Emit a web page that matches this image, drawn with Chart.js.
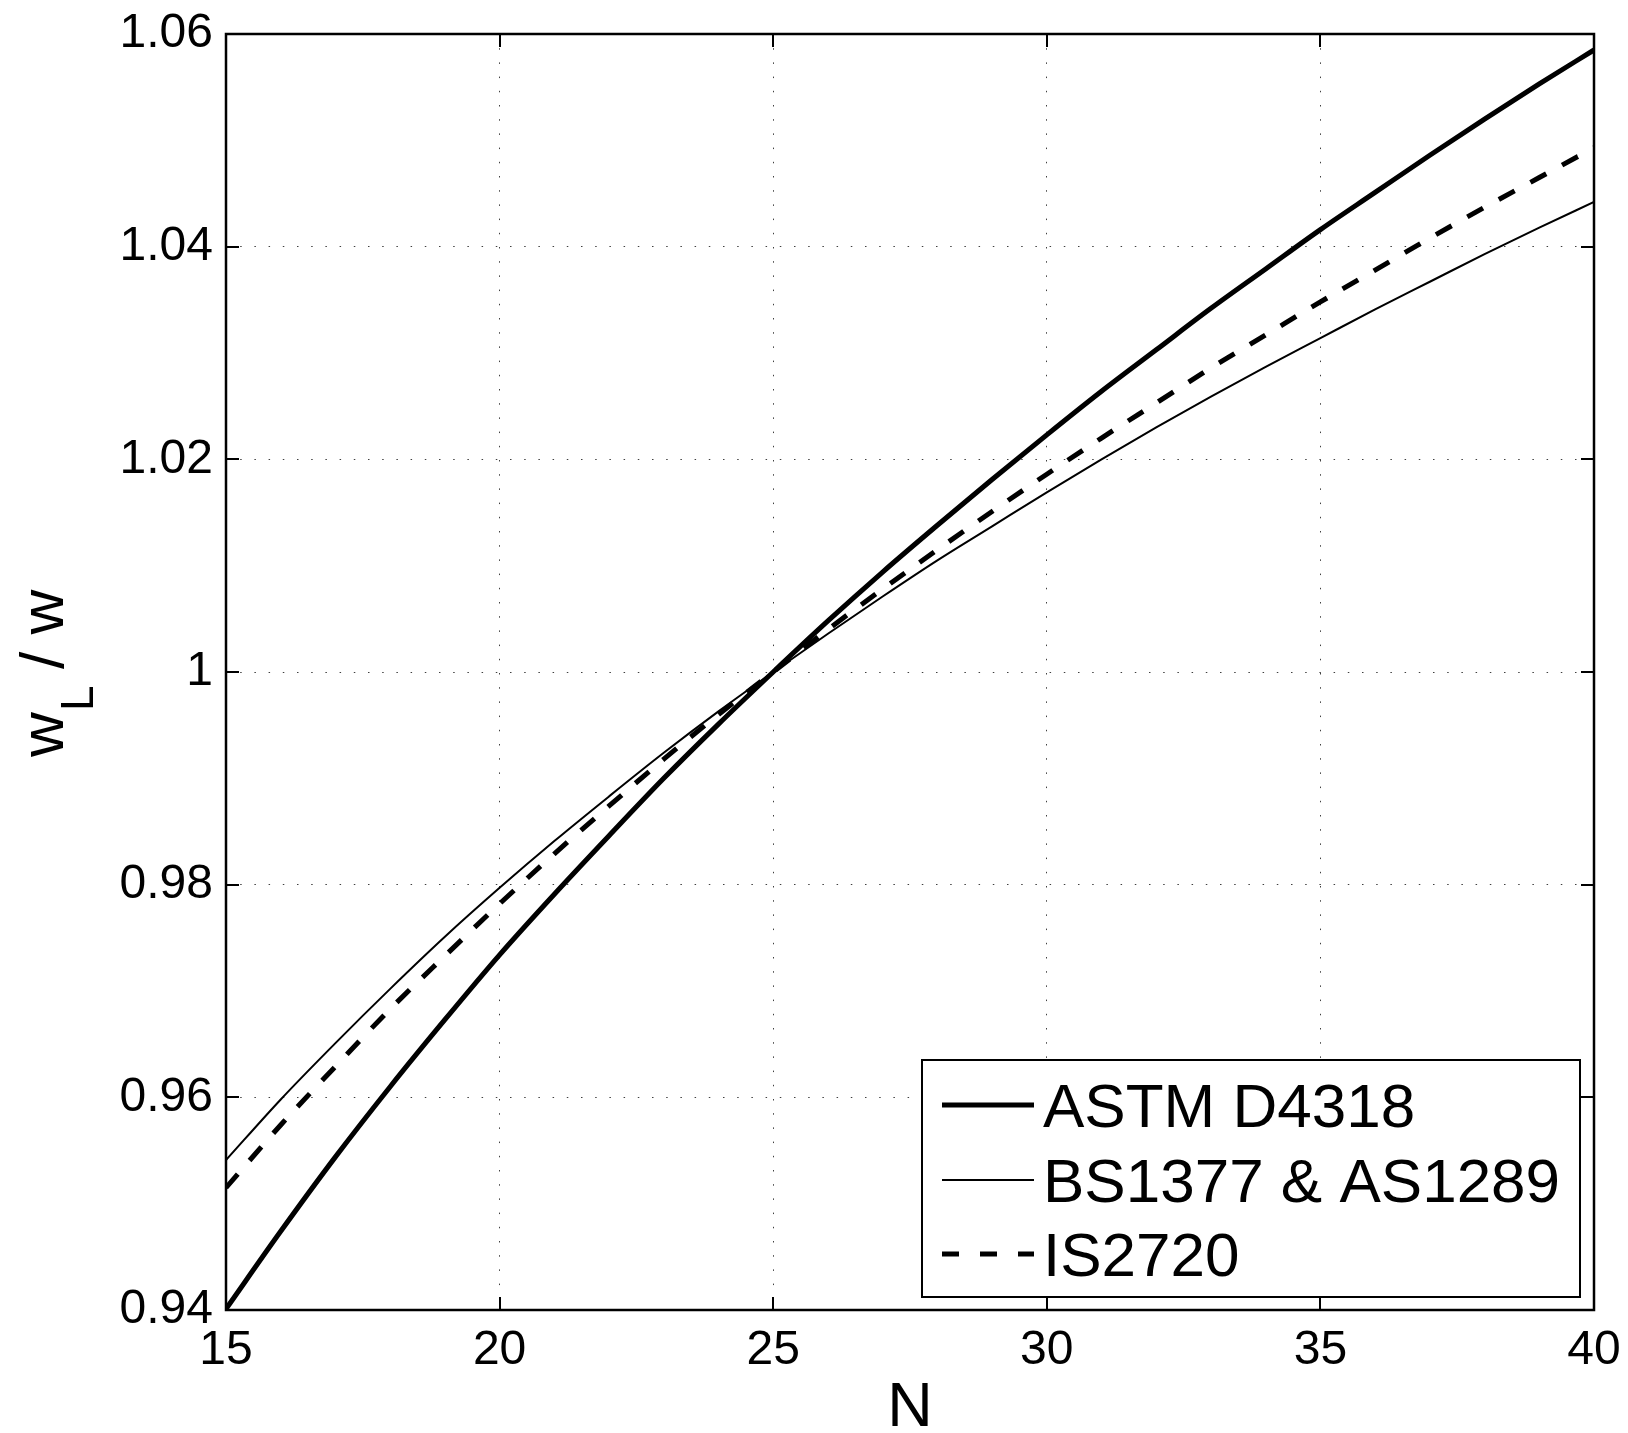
<!DOCTYPE html>
<html>
<head>
<meta charset="utf-8">
<script src="https://cdn.jsdelivr.net/npm/chart.js@4/dist/chart.umd.min.js"></script>
<style>
  html, body { margin: 0; padding: 0; background: #fff; }
  #wrap { width: 1628px; height: 1433px; position: relative; }
</style>
</head>
<body>
<div id="wrap"><canvas id="c" width="1628" height="1433"></canvas></div>
<script>
const N = [15,16,17,18,19,20,21,22,23,24,25,26,27,28,29,30,31,32,33,34,35,36,37,38,39,40];
const astm = [0.9401,0.9474,0.9544,0.9610,0.9673,0.9734,0.9791,0.9846,0.9900,0.9951,1.0000,1.0048,1.0094,1.0138,1.0181,1.0223,1.0264,1.0303,1.0342,1.0379,1.0416,1.0451,1.0486,1.0520,1.0553,1.0585];
const bs = [0.9541,0.9598,0.9651,0.9702,0.9751,0.9797,0.9841,0.9883,0.9924,0.9963,1.0000,1.0036,1.0071,1.0105,1.0137,1.0169,1.0200,1.0230,1.0259,1.0287,1.0314,1.0341,1.0367,1.0393,1.0418,1.0442];
const is2720 = [0.9515,0.9574,0.9629,0.9683,0.9733,0.9782,0.9829,0.9874,0.9918,0.9960,1.0000,1.0040,1.0078,1.0115,1.0151,1.0186,1.0220,1.0253,1.0286,1.0317,1.0348,1.0378,1.0408,1.0437,1.0465,1.0493];
const seriesLabels = ['ASTM D4318', 'BS1377 & AS1289', 'IS2720'];
const xTicks = [15,20,25,30,35,40];
const yTicks = [0.94,0.96,0.98,1.00,1.02,1.04,1.06];
const xTitle = 'N';
const yTitleMain = 'w';
const yTitleSub = 'L';
const yTitleRest = '/ w';

const toPts = (arr) => N.map((n, i) => ({x: n, y: arr[i]}));
const FONT = '"Liberation Sans", Arial, sans-serif';

const styles = [
  {borderWidth: 5, borderDash: []},
  {borderWidth: 2, borderDash: []},
  {borderWidth: 5, borderDash: [18, 18]}
];

const zeroPad = (s) => { s.paddingTop = 0; s.paddingBottom = 0; s.paddingLeft = 0; s.paddingRight = 0; };

const decorPlugin = {
  id: 'decor',
  afterDraw(chart) {
    const ctx = chart.ctx;
    const a = chart.chartArea;
    const xs = chart.scales.x, ys = chart.scales.y;
    ctx.save();
    // inner ticks
    ctx.strokeStyle = '#000';
    ctx.lineWidth = 2;
    ctx.beginPath();
    xTicks.forEach(v => {
      const px = Math.round(xs.getPixelForValue(v));
      ctx.moveTo(px, a.bottom); ctx.lineTo(px, a.bottom - 13);
      ctx.moveTo(px, a.top); ctx.lineTo(px, a.top + 13);
    });
    yTicks.forEach(v => {
      const py = Math.round(ys.getPixelForValue(v));
      ctx.moveTo(a.left, py); ctx.lineTo(a.left + 13, py);
      ctx.moveTo(a.right, py); ctx.lineTo(a.right - 13, py);
    });
    ctx.stroke();
    // box
    ctx.lineWidth = 2.5;
    ctx.strokeRect(a.left, a.top, a.right - a.left, a.bottom - a.top);

    // legend
    const lx = 922, ly = 1060, lw = 658, lh = 237;
    ctx.fillStyle = '#fff';
    ctx.fillRect(lx, ly, lw, lh);
    ctx.lineWidth = 2;
    ctx.strokeStyle = '#000';
    ctx.strokeRect(lx, ly, lw, lh);
    const rows = [1105, 1180, 1254];
    ctx.font = '62px ' + FONT;
    ctx.fillStyle = '#000';
    ctx.textAlign = 'left';
    ctx.textBaseline = 'alphabetic';
    chart.data.datasets.forEach((ds, i) => {
      const y = rows[i];
      ctx.beginPath();
      ctx.lineWidth = ds.borderWidth;
      ctx.setLineDash(i === 2 ? [17, 21] : []);
      ctx.moveTo(942, y); ctx.lineTo(1034, y);
      ctx.stroke();
      ctx.setLineDash([]);
      ctx.fillText(ds.label, 1043, y + 22);
    });

    // x title
    ctx.font = '63px ' + FONT;
    ctx.textAlign = 'center';
    ctx.fillText(xTitle, (a.left + a.right) / 2, 1426);

    // y title (rotated)
    ctx.save();
    ctx.translate(63, 757);
    ctx.rotate(-Math.PI / 2);
    ctx.textAlign = 'left';
    ctx.font = '62px ' + FONT;
    ctx.fillText(yTitleMain, 0, 0);
    ctx.font = '46px ' + FONT;
    ctx.fillText(yTitleSub, 46, 30);
    ctx.font = '62px ' + FONT;
    ctx.fillText(yTitleRest, 88, 0);
    ctx.restore();
    ctx.restore();
  }
};

new Chart(document.getElementById('c'), {
  type: 'line',
  data: {
    datasets: [astm, bs, is2720].map((arr, i) => ({
      label: seriesLabels[i],
      data: toPts(arr),
      borderColor: '#000',
      backgroundColor: '#000',
      borderWidth: styles[i].borderWidth,
      borderDash: styles[i].borderDash,
      borderCapStyle: 'butt',
      pointRadius: 0,
      cubicInterpolationMode: 'monotone',
      fill: false
    }))
  },
  options: {
    responsive: false,
    animation: false,
    devicePixelRatio: 1,
    layout: { padding: { top: 34, right: 34, left: 0, bottom: 0 } },
    plugins: { legend: { display: false }, tooltip: { enabled: false } },
    scales: {
      x: {
        type: 'linear', min: 15, max: 40,
        afterBuildTicks: (s) => { s.ticks = xTicks.map(v => ({value: v})); },
        afterFit: (s) => { s.height = 123; zeroPad(s); },
        ticks: { font: { size: 48, family: FONT }, color: '#000', padding: 12, maxRotation: 0, autoSkip: false },
        grid: { color: 'rgba(0,0,0,0.75)', lineWidth: 1, drawTicks: false },
        border: { display: false, dash: [1.5, 12.7] }
      },
      y: {
        type: 'linear', min: 0.94, max: 1.06,
        afterBuildTicks: (s) => { s.ticks = yTicks.map(v => ({value: v})); },
        afterFit: (s) => { s.width = 226; zeroPad(s); },
        ticks: {
          font: { size: 48, family: FONT }, color: '#000', padding: 13, autoSkip: false,
          callback: (v) => String(Math.round(v * 100) / 100)
        },
        grid: { color: 'rgba(0,0,0,0.75)', lineWidth: 1, drawTicks: false },
        border: { display: false, dash: [1.5, 12.7] }
      }
    }
  },
  plugins: [decorPlugin]
});
</script>
</body>
</html>
